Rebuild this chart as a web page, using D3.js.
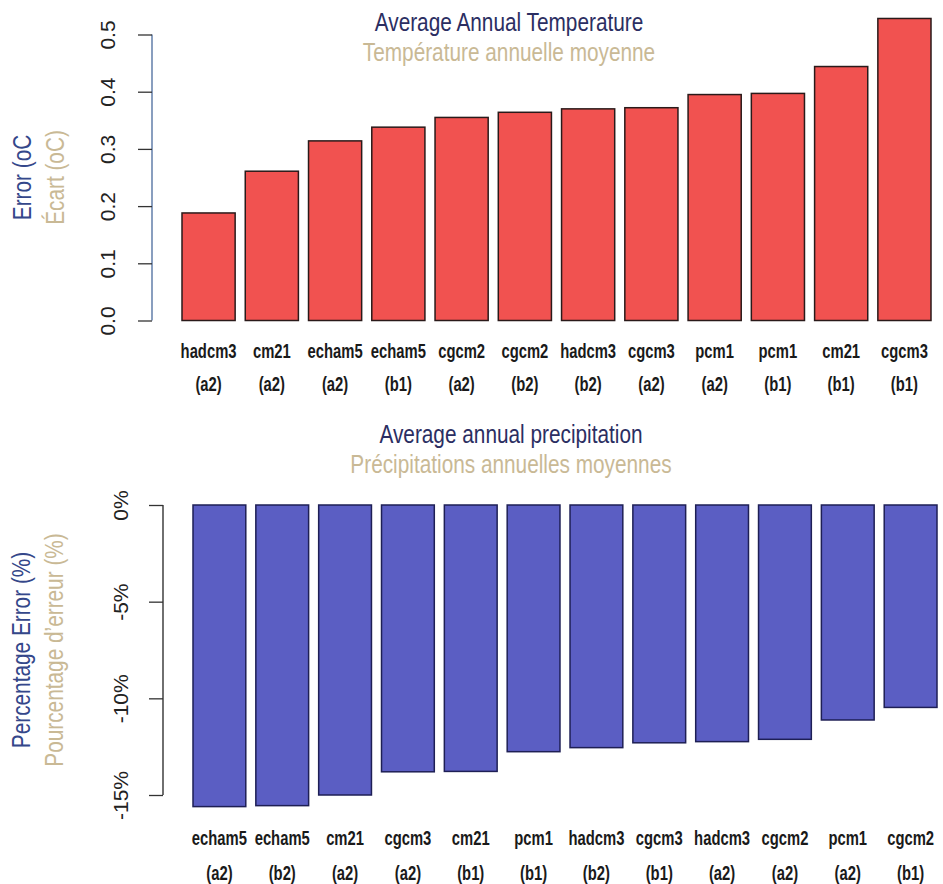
<!DOCTYPE html>
<html>
<head>
<meta charset="utf-8">
<script src="https://cdn.jsdelivr.net/npm/d3@7"></script>
<style>
  body { margin: 0; background: #fff; }
  svg { display: block; font-family: 'Liberation Sans', Arial, sans-serif; }
</style>
</head>
<body>
<svg width="943" height="884"></svg>
<script>
// temperature chart data
var tempModels = ["hadcm3", "cm21", "echam5", "echam5", "cgcm2", "cgcm2", "hadcm3", "cgcm3", "pcm1", "pcm1", "cm21", "cgcm3"];
var tempScenarios = ["(a2)", "(a2)", "(a2)", "(b1)", "(a2)", "(b2)", "(b2)", "(a2)", "(a2)", "(b1)", "(b1)", "(b1)"];
var tempError = [0.188, 0.261, 0.314, 0.338, 0.355, 0.364, 0.370, 0.372, 0.395, 0.397, 0.444, 0.528];
var tempTicks = [0, 0.1, 0.2, 0.3, 0.4, 0.5];

// precipitation chart data
var precipModels = ["echam5", "echam5", "cm21", "cgcm3", "cm21", "pcm1", "hadcm3", "cgcm3", "hadcm3", "cgcm2", "pcm1", "cgcm2"];
var precipScenarios = ["(a2)", "(b2)", "(a2)", "(a2)", "(b1)", "(b1)", "(b2)", "(b1)", "(a2)", "(a2)", "(a2)", "(b1)"];
var precipError = [-15.6, -15.55, -15.0, -13.8, -13.78, -12.76, -12.55, -12.3, -12.24, -12.12, -11.12, -10.47];
var precipTicks = [0, -5, -10, -15];

var navy = '#2b2e62', tan = '#c9b995';
var svg = d3.select('svg');

// text squeezed horizontally (in its own frame), optionally rotated
function narrow(parent, x, y, rot, txt, sq) {
    sq = sq || 0.8; // condensed look of the original lettering
    return parent.append('text')
        .attr('transform', 'translate(' + [x, y] + ')' + (rot ? ' rotate(' + rot + ')' : '') + ' scale(' + sq + ',1)')
        .attr('text-anchor', 'middle')
        .text(txt);
}

function drawPanel(opt) {
    var keys = opt.models.map((m, i) => m + ' ' + opt.scen[i]);
    var x = d3.scaleBand()
        .domain(keys)
        .range(opt.xRange)
        .paddingInner(0.16);
    var y = d3.scaleLinear()
        .domain(opt.yDomain)
        .range(opt.yRange);

    var g = svg.append('g');

    // titles
    narrow(g, opt.titleX, opt.titleY, 0, opt.title)
        .attr('font-size', 26).attr('fill', navy);
    narrow(g, opt.titleX, opt.titleY + 30, 0, opt.subtitle)
        .attr('font-size', 26).attr('fill', tan);

    // bars
    g.selectAll('rect')
        .data(opt.values)
        .enter().append('rect')
        .attr('x', (d, i) => x(keys[i]))
        .attr('width', x.bandwidth())
        .attr('y', d => Math.min(y(0), y(d)))
        .attr('height', d => Math.abs(y(d) - y(0)))
        .attr('fill', opt.fill)
        .attr('stroke', opt.stroke)
        .attr('stroke-width', 1.5);

    // y axis
    var yAxis = d3.axisLeft(y)
        .tickValues(opt.ticks)
        .tickSize(14)
        .tickSizeOuter(0)
        .tickFormat(opt.fmt);
    var ax = g.append('g')
        .attr('transform', 'translate(' + [opt.axisX, 0] + ')')
        .call(yAxis);
    ax.select('.domain').attr('stroke', opt.axisColor).attr('stroke-width', 1.3)
        .attr('d', 'M0,' + y(opt.ticks[0]) + 'V' + y(opt.ticks[opt.ticks.length - 1]));
    ax.selectAll('.tick line').attr('stroke', '#333').attr('stroke-width', 1.3);
    ax.selectAll('.tick text')
        .attr('x', null).attr('dy', '0.36em')
        .attr('transform', 'translate(' + opt.labelOff + ',0) rotate(-90)')
        .attr('text-anchor', 'middle')
        .attr('fill', '#222')
        .attr('font-family', "'Liberation Sans', Arial, sans-serif")
        .attr('font-size', 21);

    // axis titles (two languages)
    var mid = (opt.yRange[0] + opt.yRange[1]) / 2;
    narrow(g, opt.ylabX[0], mid, -90, opt.ylab[0])
        .attr('font-size', 26).attr('fill', '#34478a');
    narrow(g, opt.ylabX[1], mid, -90, opt.ylab[1])
        .attr('font-size', 26).attr('fill', tan);

    // category labels
    var lab = g.selectAll('.cat')
        .data(keys)
        .enter().append('g')
        .attr('class', 'cat')
        .attr('font-weight', 'bold').attr('font-size', 19.5).attr('fill', '#1a1a1a');
    lab.each(function(d, i) {
        var cx = x(d) + x.bandwidth() / 2;
        narrow(d3.select(this), cx, opt.catY[0], 0, opt.models[i], 0.76);
        narrow(d3.select(this), cx, opt.catY[1], 0, opt.scen[i], 0.76);
    });
}

drawPanel({
    models: tempModels, scen: tempScenarios, values: tempError, ticks: tempTicks,
    xRange: [182, 931], yDomain: [0, 0.5], yRange: [320.5, 34.5],
    fill: '#f15250', stroke: '#2a1a1a', axisX: 152, axisColor: '#4a6a9c', labelOff: -45,
    fmt: d3.format('.1f'),
    title: 'Average Annual Temperature', subtitle: 'Température annuelle moyenne',
    titleX: 509, titleY: 31,
    ylab: ['Error (oC', 'Écart (oC)'], ylabX: [31, 64],
    catY: [358, 391]
});

drawPanel({
    models: precipModels, scen: precipScenarios, values: precipError, ticks: precipTicks,
    xRange: [193, 937], yDomain: [0, -15], yRange: [505, 795],
    fill: '#5b5ec3', stroke: '#1e1f55', axisX: 163, axisColor: '#222', labelOff: -43,
    fmt: d => d + '%',
    title: 'Average annual precipitation', subtitle: 'Précipitations annuelles moyennes',
    titleX: 511, titleY: 443,
    ylab: ['Percentage Error (%)', 'Pourcentage d\u2019erreur (%)'], ylabX: [30, 63],
    catY: [845, 880]
});
</script>
</body>
</html>
